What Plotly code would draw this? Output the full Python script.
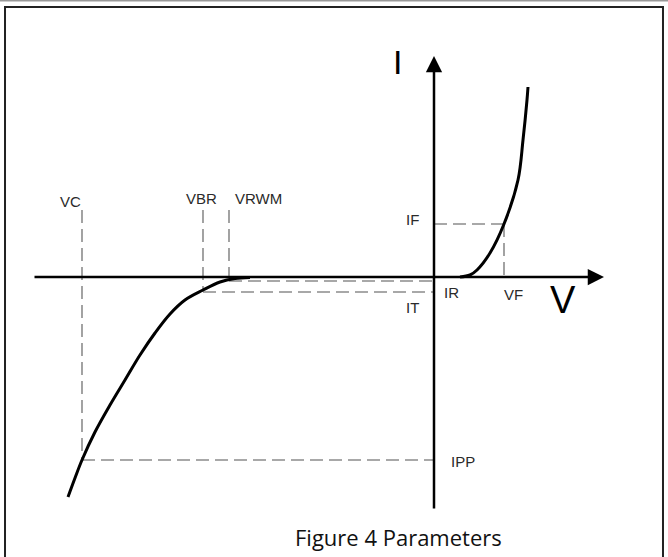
import plotly.graph_objects as go

# I-V characteristic of a TVS diode (arbitrary units, origin at axis crossing)
rev_v = [-36.6, -35.9, -35.2, -33.9, -32.4, -30.9, -29.4, -27.9, -26.4, -24.9, -23.1, -21.4, -19.9, -18.4]
rev_i = [-22.0, -20.1, -18.3, -15.5, -12.8, -10.3, -7.8, -5.6, -3.7, -2.3, -1.3, -0.5, -0.15, -0.05]

fwd_v = [2.6, 3.6, 4.3, 5.6, 7.0, 8.4, 8.9, 9.3, 9.4]
fwd_i = [0.0, 0.2, 0.7, 2.4, 5.3, 9.7, 13.7, 17.7, 19.0]

# parameter levels
VC, VBR, VRWM, VF = -35.2, -23.1, -20.5, 7.0
IPP, IT, IR, IF = -18.3, -1.5, -0.4, 5.3
GUIDE_TOP = 6.7

X_AXIS = [-40.1, 17.0]
Y_AXIS = [-23.3, 22.1]

fig = go.Figure()

dash = dict(color="#8c8c8c", width=1.6, dash="13px,6px")
guides = [
    ([VC, VC], [GUIDE_TOP, IPP]),
    ([VBR, VBR], [GUIDE_TOP, IT]),
    ([VRWM, VRWM], [GUIDE_TOP, 0]),
    ([VC, 0], [IPP, IPP]),
    ([VBR, 0], [IT, IT]),
    ([VRWM, 0], [IR, IR]),
    ([0, VF], [IF, IF]),
    ([VF, VF], [IF, 0]),
]
for gx, gy in guides:
    fig.add_trace(go.Scatter(x=gx, y=gy, mode="lines", line=dash, hoverinfo="skip"))

fig.add_trace(go.Scatter(x=rev_v, y=rev_i, mode="lines", line_shape="spline",
                         line=dict(color="black", width=3)))
fig.add_trace(go.Scatter(x=fwd_v, y=fwd_i, mode="lines", line_shape="spline",
                         line=dict(color="black", width=3)))

# axes with arrow heads
fig.add_annotation(x=X_AXIS[1], y=0, ax=X_AXIS[0], ay=0, xref="x", yref="y",
                   axref="x", ayref="y", showarrow=True, arrowhead=2, arrowsize=1.3,
                   arrowwidth=2.5, arrowcolor="black", text="")
fig.add_annotation(x=0, y=Y_AXIS[1], ax=0, ay=Y_AXIS[0], xref="x", yref="y",
                   axref="x", ayref="y", showarrow=True, arrowhead=2, arrowsize=1.3,
                   arrowwidth=2.5, arrowcolor="black", text="")

lab = dict(family="Liberation Sans", size=15, color="#2a2a2a")
labels = [
    ("VC", -36.4, 7.6), ("VBR", -23.3, 7.9), ("VRWM", -17.6, 7.9),
    ("IF", -2.2, 5.8), ("IR", 1.7, -1.5), ("VF", 7.9, -1.7),
    ("IT", -2.2, -3.0), ("IPP", 2.9, -18.4),
]
for t, lx, ly in labels:
    fig.add_annotation(x=lx, y=ly, text=t, showarrow=False, font=lab)

fig.add_annotation(x=-3.7, y=21.5, text="I", showarrow=False,
                   font=dict(family="Liberation Sans", size=34, color="black"))
fig.add_annotation(x=12.9, y=-2.3, text="V", showarrow=False,
                   font=dict(family="Liberation Sans", size=38, color="black"))

fig.add_annotation(x=0.597, y=0.036, xref="paper", yref="paper", yanchor="middle",
                   text="Figure 4 Parameters", showarrow=False,
                   font=dict(family="Open Sans", size=22, color="#111111"))

# frame
fig.add_shape(type="line", xref="paper", yref="paper", x0=0, x1=1, y0=0.999, y1=0.999,
              line=dict(color="#999999", width=2))
fig.add_shape(type="path", xref="paper", yref="paper",
              path="M 0.0075,0 L 0.0075,0.9875 L 0.9925,0.9875 L 0.9925,0",
              line=dict(color="#222222", width=2))

fig.update_layout(
    width=668, height=557,
    margin=dict(l=0, r=0, t=0, b=0),
    plot_bgcolor="white", paper_bgcolor="white",
    showlegend=False,
    xaxis=dict(range=[-43.4, 23.4], visible=False, fixedrange=True),
    yaxis=dict(range=[-28.0, 27.7], visible=False, fixedrange=True),
)

fig.write_html("out.html", config={"displayModeBar": False},
               post_script="document.body.style.margin='0';")
